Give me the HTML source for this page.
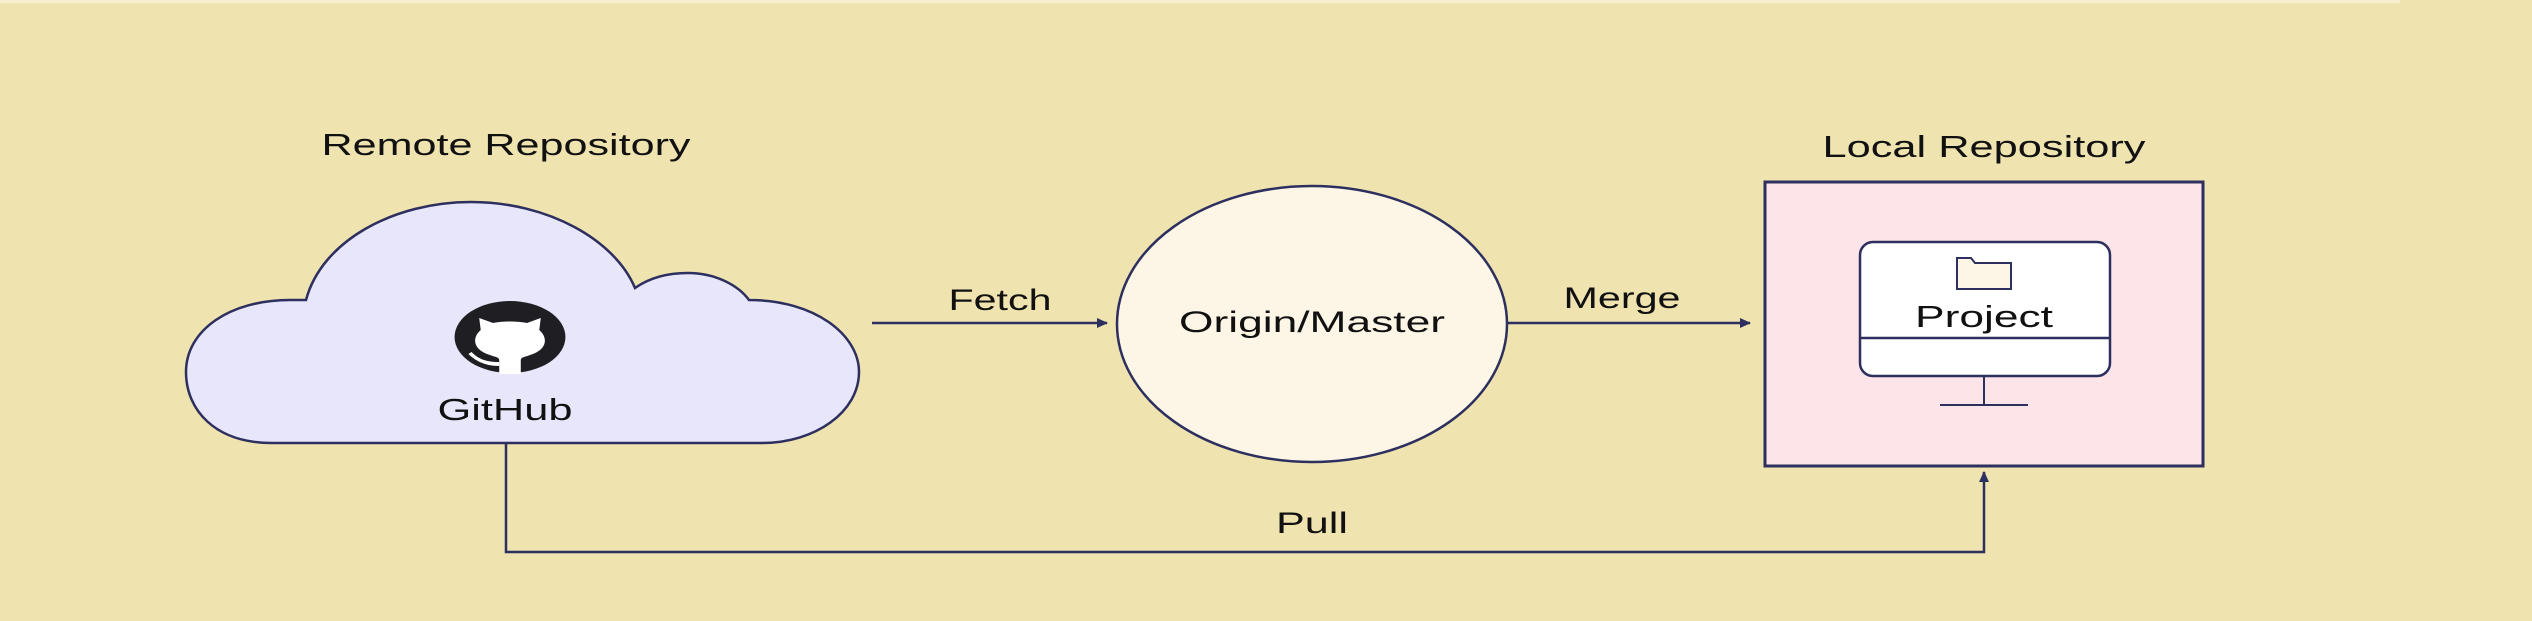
<!DOCTYPE html>
<html><head><meta charset="utf-8"><style>
html,body{margin:0;padding:0;background:#efe3b0;}
svg{display:block;}
text{font-family:"Liberation Sans",sans-serif;fill:#111;}
</style></head><body>
<svg width="2532" height="621" viewBox="0 0 2532 621" xmlns="http://www.w3.org/2000/svg">
<rect width="2532" height="621" fill="#efe3b0"/>
<rect width="2400" height="3" fill="#f6efd2"/>
<defs>
<marker id="ar" markerWidth="12" markerHeight="12" refX="10" refY="6" orient="auto" markerUnits="userSpaceOnUse">
<path d="M0,1 L11,6 L0,11 Z" fill="#2d2f5e"/>
</marker>
</defs>

<!-- Titles -->
<text x="506" y="155" font-size="31" text-anchor="middle" textLength="369" lengthAdjust="spacingAndGlyphs">Remote Repository</text>
<text x="1984" y="157" font-size="31" text-anchor="middle" textLength="323" lengthAdjust="spacingAndGlyphs">Local Repository</text>

<!-- Cloud -->
<path d="M 272 443 C 215 443 186 410 186 372 C 186 330 230 300 290 300 L 306 300 C 322 240 395 202 471 202 C 548 202 615 240 635 288 C 652 276 672 273 688 273 C 715 273 738 285 749 300 C 815 300 859 335 859 372 C 859 412 815 443 762 443 Z" fill="#e8e6fb" stroke="#2d2f5e" stroke-width="2.5"/>
<!-- GitHub icon -->
<g transform="translate(510,337) scale(1.54,1) translate(-385,-337)">
<circle cx="385" cy="337" r="36" fill="#1f1f23"/>
<path d="M365 318 L366 330 C360 338 361 350 372 355 C375 357 378 357 378 360 L378 374 L392 374 L392 360 C392 357 395 357 398 355 C409 350 410 338 404 330 L405 318 L396 323 C390 321 380 321 374 323 Z" fill="#fff"/>
<path d="M360 352 C364 358 368 362 378 362 L378 366 C368 366 362 360 358 354 Z" fill="#fff"/>
</g>
<text x="505" y="420" font-size="31" text-anchor="middle" textLength="135" lengthAdjust="spacingAndGlyphs">GitHub</text>

<!-- Fetch -->
<line x1="872" y1="323" x2="1107" y2="323" stroke="#2d2f5e" stroke-width="2.5" marker-end="url(#ar)"/>
<text x="1000" y="310" font-size="30" text-anchor="middle" textLength="103" lengthAdjust="spacingAndGlyphs">Fetch</text>

<!-- Origin/Master -->
<ellipse cx="1312" cy="324" rx="195" ry="138" fill="#fdf6e6" stroke="#2d2f5e" stroke-width="2.5"/>
<text x="1312" y="332" font-size="30" text-anchor="middle" textLength="266" lengthAdjust="spacingAndGlyphs">Origin/Master</text>

<!-- Merge -->
<line x1="1507" y1="323" x2="1750" y2="323" stroke="#2d2f5e" stroke-width="2.5" marker-end="url(#ar)"/>
<text x="1622" y="308" font-size="30" text-anchor="middle" textLength="117" lengthAdjust="spacingAndGlyphs">Merge</text>

<!-- Local box -->
<rect x="1765" y="182" width="438" height="284" fill="#fde4e8" stroke="#2d2f5e" stroke-width="3"/>
<rect x="1860" y="242" width="250" height="134" rx="13" fill="#fff" stroke="#2d2f5e" stroke-width="2.5"/>
<line x1="1860" y1="338" x2="2110" y2="338" stroke="#2d2f5e" stroke-width="2.5"/>
<line x1="1984" y1="376" x2="1984" y2="405" stroke="#2d2f5e" stroke-width="2"/>
<line x1="1940" y1="405" x2="2028" y2="405" stroke="#2d2f5e" stroke-width="2"/>
<path d="M1957 289 L1957 258 L1971 258 L1975 263 L2011 263 L2011 289 Z" fill="#fdf6e6" stroke="#2d2f5e" stroke-width="2"/>
<text x="1984" y="327" font-size="31" text-anchor="middle" textLength="138" lengthAdjust="spacingAndGlyphs">Project</text>

<!-- Pull -->
<polyline points="506,443 506,552 1984,552 1984,472" fill="none" stroke="#2d2f5e" stroke-width="2.5" marker-end="url(#ar)"/>
<text x="1312" y="533" font-size="30" text-anchor="middle" textLength="72" lengthAdjust="spacingAndGlyphs">Pull</text>
</svg>
</body></html>
